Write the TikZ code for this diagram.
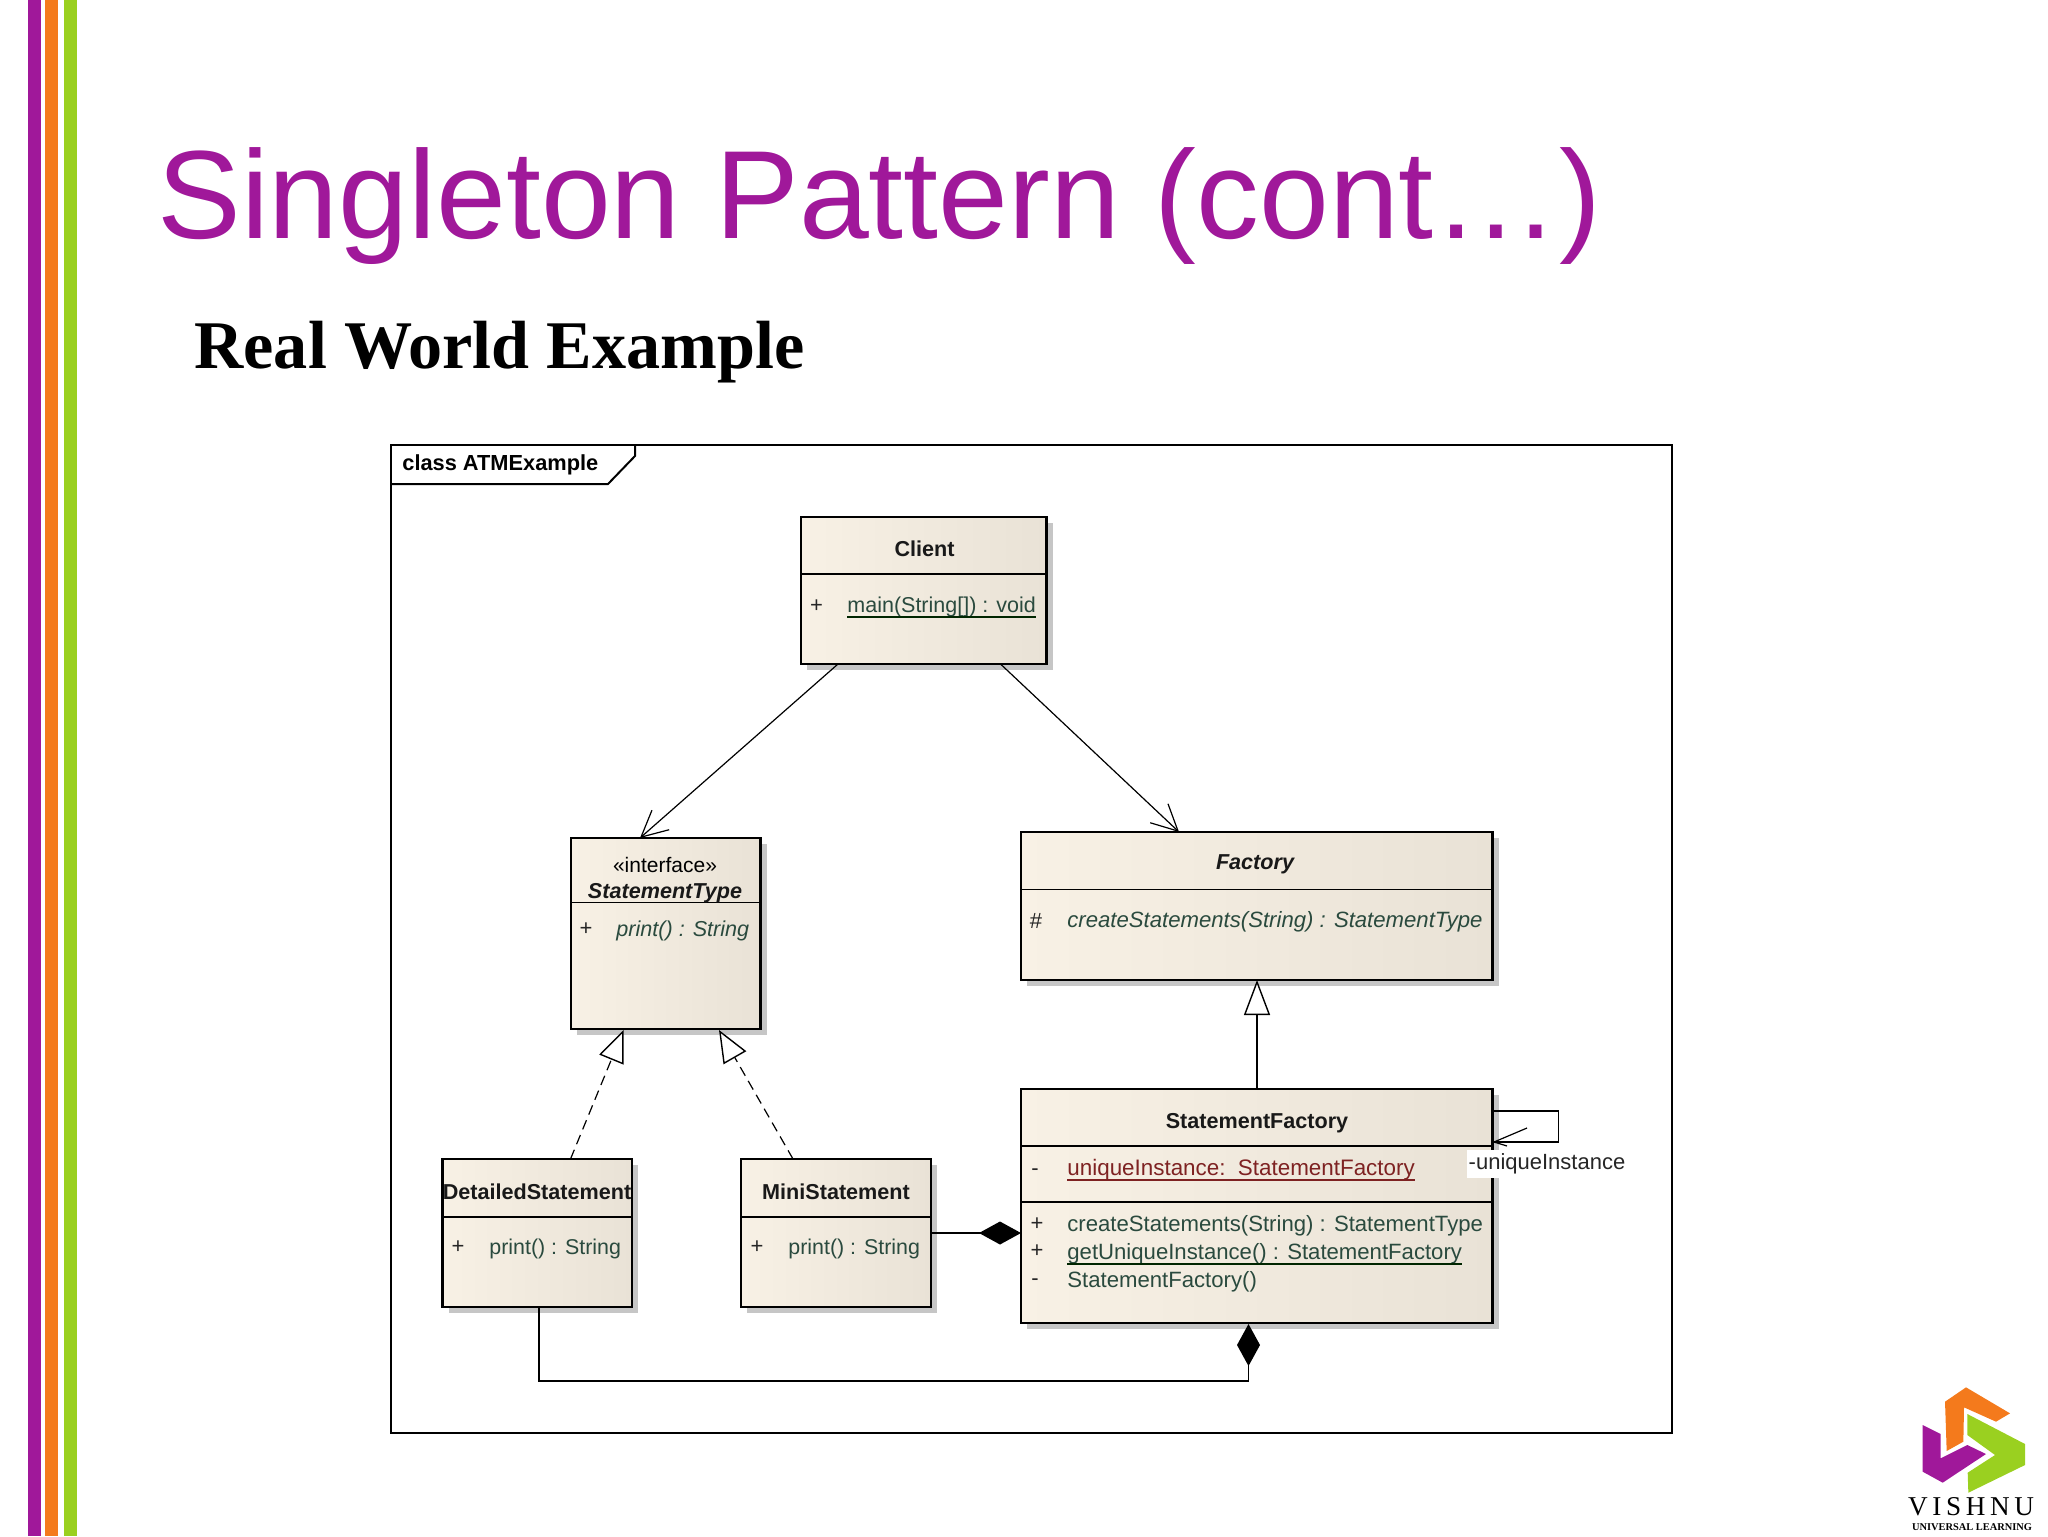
\documentclass[tikz,border=0pt]{standalone}
\usepackage{fontspec}
\setmainfont{Liberation Sans}
\newfontfamily\serifface{Liberation Serif}
\usetikzlibrary{arrows.meta,calc,shadows}
\definecolor{slidepurple}{HTML}{A0189A}
\definecolor{slideorange}{HTML}{F47A1C}
\definecolor{slidegreen}{HTML}{9AD020}
\definecolor{beigeA}{HTML}{F8F1E5}
\definecolor{beigeB}{HTML}{E9E2D6}
\definecolor{shadowgrey}{HTML}{C6C6C6}
\definecolor{membergreen}{HTML}{2A4A3E}
\definecolor{memberred}{HTML}{7E2222}
\tikzset{
  umlclass/.style={draw=black,line width=1.1pt,anchor=north west,inner sep=0pt,outer sep=0pt,
    left color=beigeA,middle color=beigeA,right color=beigeB,
    drop shadow={shadow xshift=3pt,shadow yshift=-3pt,fill=shadowgrey,opacity=1}},
  classline/.style={draw=black,line width=0.9pt},
  classtitle/.style={font=\fontsize{10.8}{12}\selectfont\bfseries,inner sep=0pt,text=black!90},
  membertext/.style={font=\fontsize{11.07}{13}\selectfont,inner sep=0pt,anchor=base west,text=membergreen},
  visib/.style={font=\fontsize{11}{13}\selectfont,inner sep=0pt,text=black!85},
  underl/.style={line width=0.8pt},
  assoc/.style={line width=0.6pt,-{Straight Barb[length=13pt,width=13pt,line width=0.6pt]}},
  realize/.style={line width=0.6pt,dashed,dash pattern=on 5pt off 3pt,-{Triangle[length=16pt,width=13pt,fill=white,line width=0.7pt]}},
  general/.style={line width=0.7pt,-{Triangle[length=17.5pt,width=13pt,fill=white,line width=0.7pt]}},
  compo/.style={line width=0.8pt,-{Diamond[length=21pt,width=11.5pt,fill=black]}},
}
\newcommand{\cbox}[5]{\node[umlclass,minimum width={(#4-#2)*0.5pt},minimum height={(#5-#3)*0.5pt}] (#1) at (#2,#3) {};}
\newcommand{\cdiv}[2]{\draw[classline] ($(#1.north west)+(0,#2)$) -- ($(#1.north east)+(0,#2)$);}
\newcommand{\memb}[5][]{\node[membertext,#1] (#2) at (#3,#4) {#5};}
\newcommand{\mline}[2]{\draw[underl,#2] ([yshift=-2.6pt]#1.base west) -- ([yshift=-2.6pt]#1.base east);}
\begin{document}
\begin{tikzpicture}[x=0.5pt,y=-0.5pt]
\useasboundingbox (0,0) rectangle (2048,1536);
% side stripes
\fill[slidepurple] (28,0) rectangle (41,1536);
\fill[slideorange] (45,0) rectangle (58,1536);
\fill[slidegreen] (64,0) rectangle (77,1536);
% headings
\node[anchor=base west,inner sep=0pt,text=slidepurple,font=\fontsize{62.75}{70}\selectfont] (title) at (157,238) {Singleton Pattern (cont…)};
\node[anchor=base west,inner sep=0pt,font=\serifface\fontsize{34.1}{38}\selectfont\bfseries] (subtitle) at (194,368) {Real World Example};
% frame
\node[draw=black,line width=1pt,anchor=north west,inner sep=0pt,outer sep=0pt,minimum width=640.5pt,minimum height=494pt] (frame) at (391,445) {};
\draw[line width=1pt] ($(frame.north west)+(0,39)$) -- ($(frame.north west)+(217,39)$) -- ($(frame.north west)+(244,11)$) -- ($(frame.north west)+(244,0)$);
\node[anchor=base west,inner sep=0pt,font=\fontsize{10.9}{13}\selectfont\bfseries] (framelabel) at (402,470) {class ATMExample};
% Client
\cbox{client}{801}{517}{1046.5}{664}
\cdiv{client}{57}
\node[classtitle] (clienttitle) at (924.6,549) {Client};
\node[visib] (clientvis) at (816.6,606) {+};
\memb[font=\fontsize{10.75}{13}\selectfont]{clientmain}{847}{612}{main(String[]) : void}
\mline{clientmain}{black!85!green}
% StatementType
\cbox{stype}{571}{838}{760.5}{1029}
\cdiv{stype}{64.5}
\node[font=\fontsize{10.5}{12}\selectfont,inner sep=0pt] (stypestereo) at (665,865) {«interface»};
\node[classtitle,font=\fontsize{10.8}{12}\selectfont\bfseries\itshape] (stypetitle) at (665,893) {StatementType};
\node[visib] (stypevis) at (586,929) {+};
\memb[font=\fontsize{10.8}{13}\selectfont\itshape]{stypeprint}{616}{936}{print() : String}
% Factory
\cbox{factory}{1021}{832}{1492.5}{980}
\cdiv{factory}{57.5}
\node[classtitle,font=\fontsize{10.8}{12}\selectfont\bfseries\itshape] (factorytitle) at (1255,864) {Factory};
\node[visib] (factoryvis) at (1036,921) {\#};
\memb[font=\fontsize{11.07}{13}\selectfont\itshape]{factorycreate}{1067}{927}{createStatements(String) : StatementType}
% StatementFactory
\cbox{sfac}{1021}{1089}{1492.5}{1323}
\cdiv{sfac}{57}
\cdiv{sfac}{113}
\node[classtitle] (sfactitle) at (1257,1123.5) {StatementFactory};
\node[visib] (sfacvisa) at (1035,1172) {-};
\memb[text=memberred,font=\fontsize{11.2}{13}\selectfont]{sfacattr}{1067}{1175}{uniqueInstance:\ \ StatementFactory}
\mline{sfacattr}{memberred}
\node[visib] (sfacvisb) at (1037,1224) {+};
\node[visib] (sfacvisc) at (1037,1251) {+};
\node[visib] (sfacvisd) at (1035,1282) {-};
\memb{sfaccreate}{1067}{1231}{createStatements(String) : StatementType}
\memb{sfacget}{1067}{1259}{getUniqueInstance() : StatementFactory}
\mline{sfacget}{black!85!green}
\memb{sfacctor}{1067}{1287}{StatementFactory()}
% DetailedStatement
\cbox{detailed}{442.5}{1159}{632}{1307}
\cdiv{detailed}{58}
\node[classtitle] (detailedtitle) at (537,1192) {DetailedStatement};
\node[visib] (detailedvis) at (458,1247) {+};
\memb[font=\fontsize{10.7}{13}\selectfont]{detailedprint}{489}{1254}{print() : String}
% MiniStatement
\cbox{mini}{741}{1159}{931}{1307}
\cdiv{mini}{58}
\node[classtitle] (minititle) at (836,1192) {MiniStatement};
\node[visib] (minivis) at (757,1247) {+};
\memb[font=\fontsize{10.7}{13}\selectfont]{miniprint}{788}{1254}{print() : String}
% connectors
\draw[assoc] ($(client.south west)+(37,0)$) -- ($(stype.north west)+(69,0)$);
\draw[assoc] ($(client.south west)+(199.5,0)$) -- ($(factory.north west)+(158,0)$);
\draw[realize] ($(detailed.north west)+(128,0)$) -- ($(stype.south west)+(52.5,1)$);
\draw[realize] ($(mini.north west)+(52,0)$) -- ($(stype.south west)+(148,1)$);
\draw[general] (sfactitle.center |- sfac.north) -- (sfactitle.center |- factory.south);
\draw[compo] ($(mini.north east)+(0,74)$) -- ($(sfac.north west)+(0,144)$);
\draw[compo] ($(detailed.south)+(2,0)$) -- ++(0,74) -| ($(sfac.south west)+(227.5,1)$);
% self loop
\coordinate (looptip) at ($(sfac.north east)+(1.5,53)$);
\draw[line width=0.9pt] ($(sfac.north east)+(0,22)$) -- ++(66,0) -- ++(0,31) -- (looptip);
\draw[line width=0.6pt] (looptip) -- ++(33,-14);
\draw[line width=0.6pt] (looptip) -- ++(13,4);
\node[fill=white,inner sep=0pt,outer sep=0pt,anchor=north west,minimum width=80pt,minimum height=14pt,text=black!85,font=\fontsize{11}{13}\selectfont,align=right] (looplabel) at (1467,1150) {-uniqueInstance};
% logo
\begin{scope}[shift={(1880,1370)},x=0.16667pt,y=-0.16667pt]
\fill[slideorange] (195,95) -- (258,52) -- (390,130) -- (348,155) -- (252,112) -- (250,215) -- (200,243) -- cycle;
\fill[slidegreen] (262,132) -- (435,222) -- (435,285) -- (265,368) -- (263,308) -- (345,255) -- (262,195) -- cycle;
\fill[slidepurple] (128,165) -- (182,192) -- (182,265) -- (262,225) -- (318,252) -- (188,338) -- (128,305) -- cycle;
\end{scope}
\node[anchor=base,inner sep=0pt,font=\serifface\fontsize{13.6}{15}\selectfont\addfontfeature{LetterSpace=17}] (logoa) at (1971,1515) {VISHNU};
\node[anchor=base,inner sep=0pt,font=\serifface\fontsize{5.2}{6}\selectfont\bfseries] (logob) at (1972,1530) {UNIVERSAL LEARNING};
\end{tikzpicture}
\end{document}
